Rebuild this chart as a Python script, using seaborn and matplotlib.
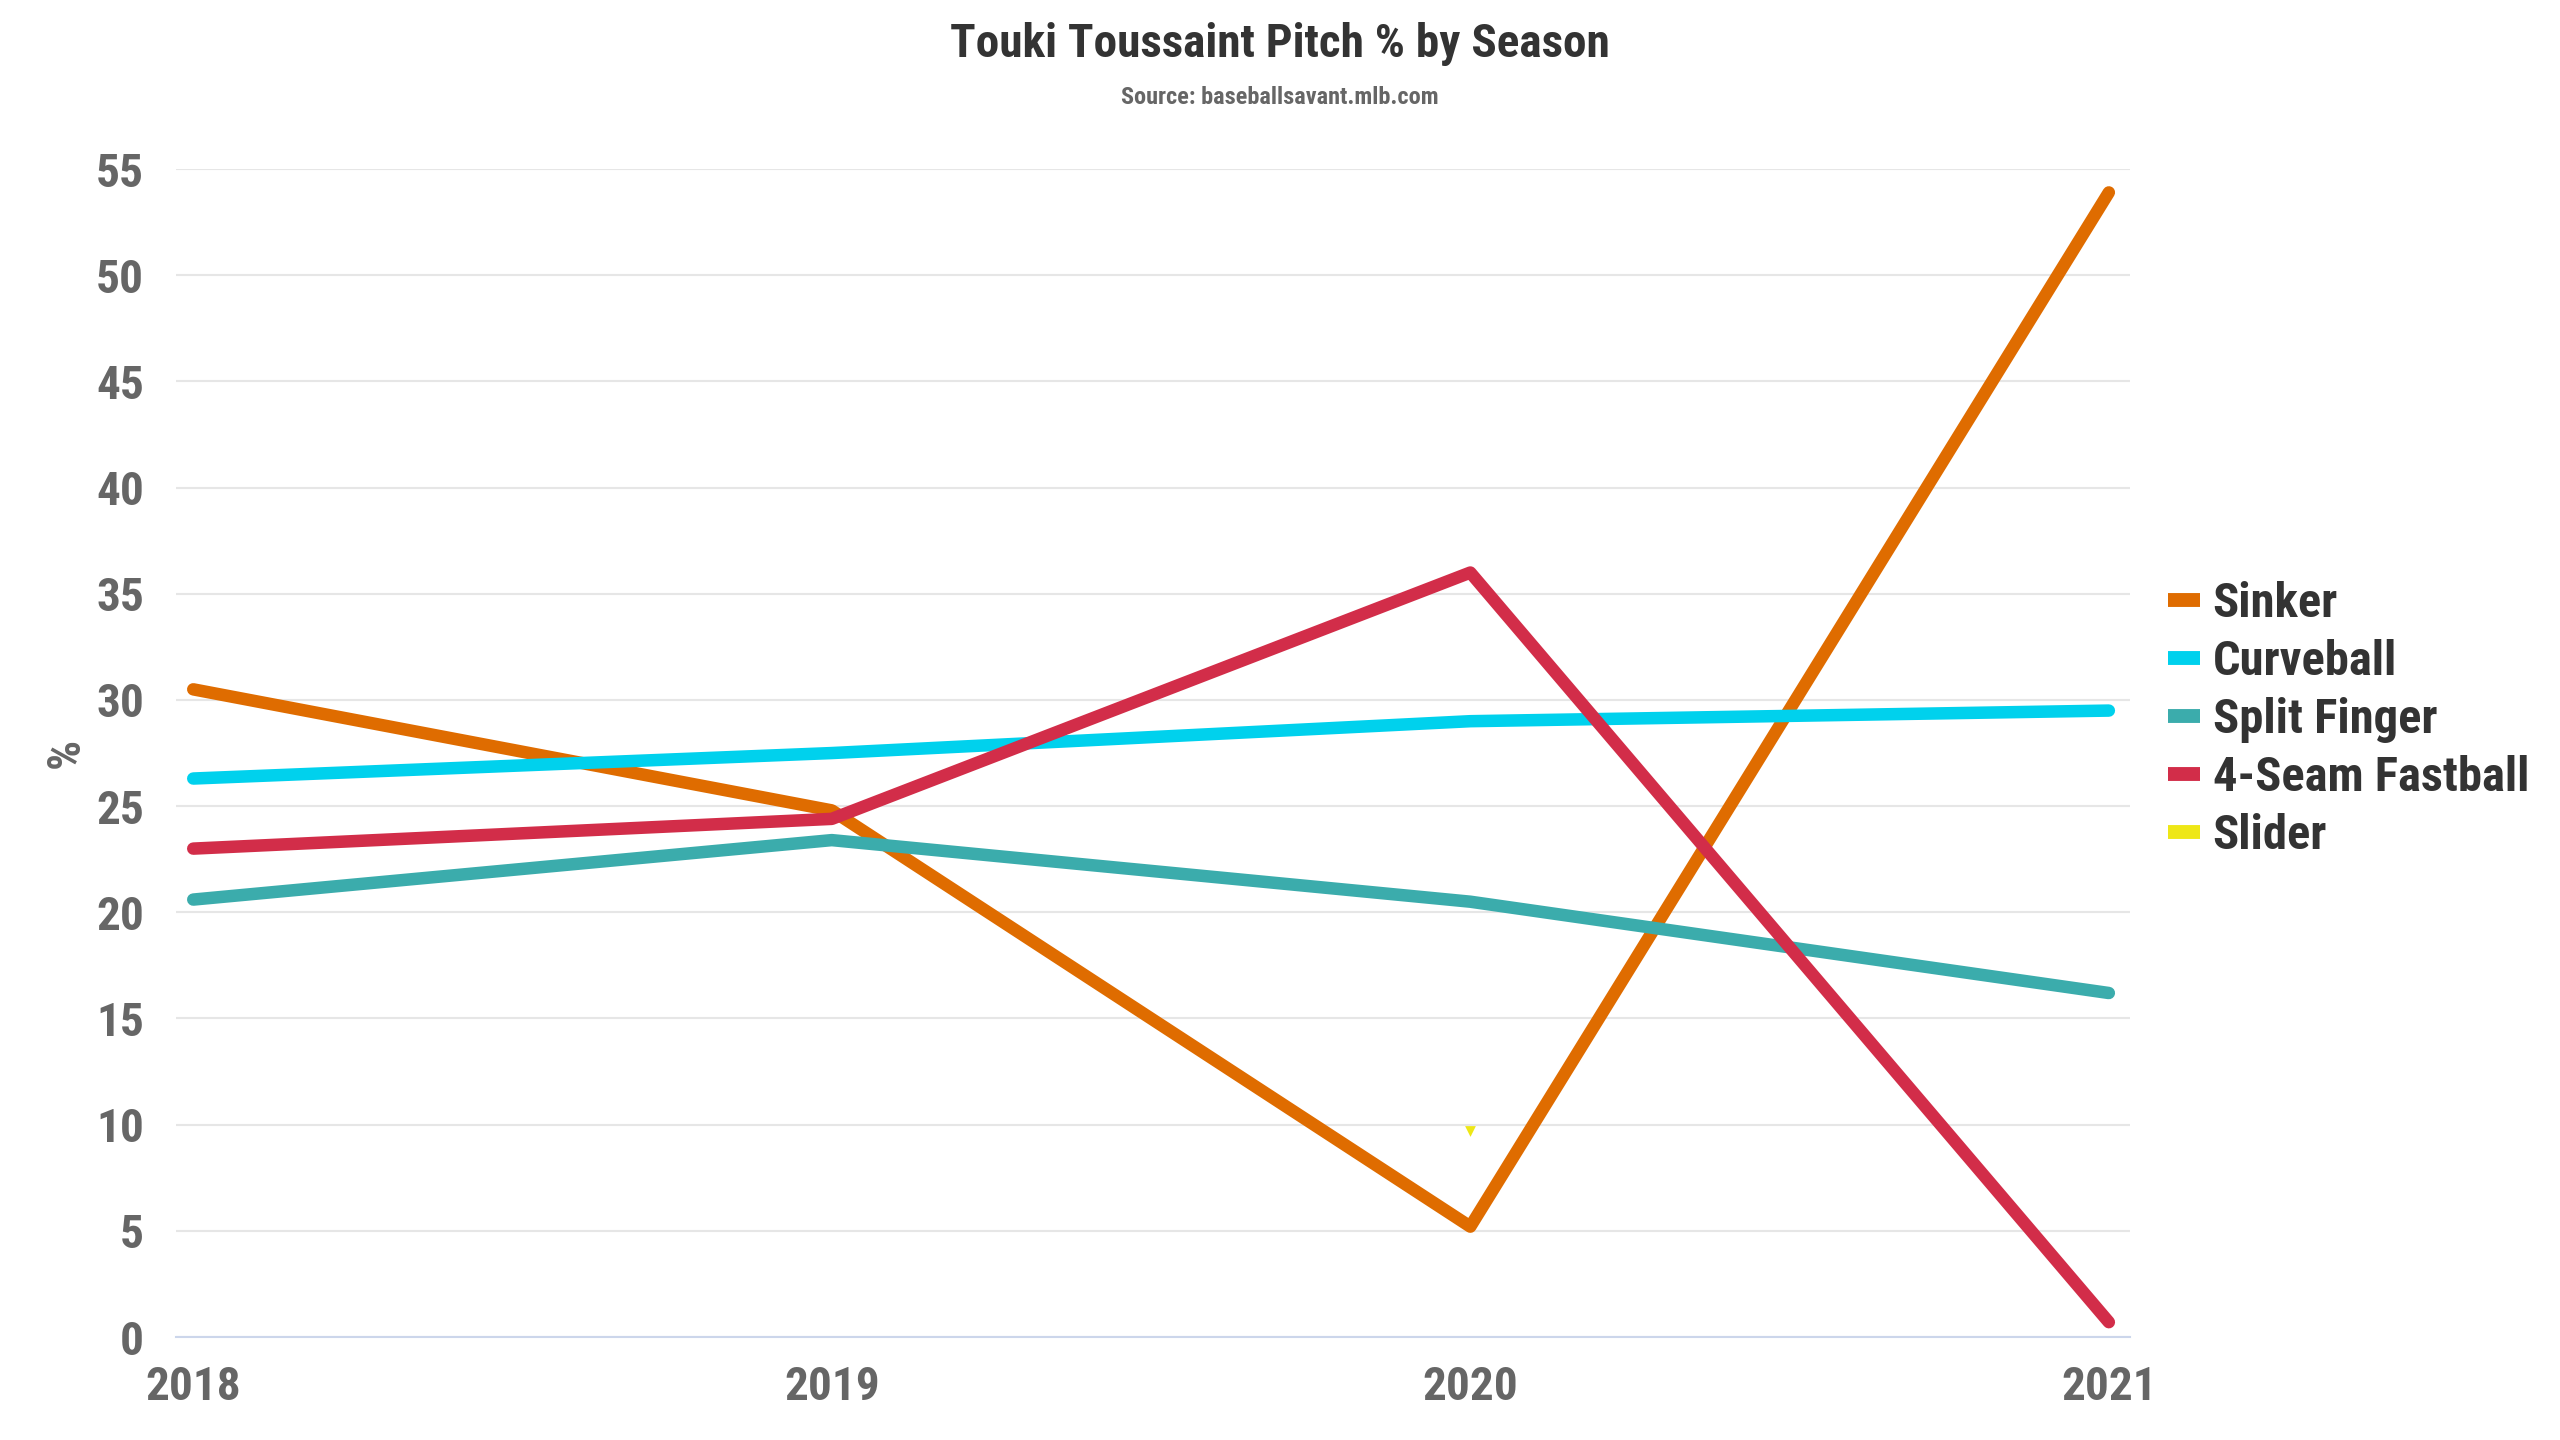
import numpy as np
import pandas as pd
import seaborn as sns
import matplotlib.pyplot as plt
from matplotlib.lines import Line2D

seasons = [2018, 2019, 2020, 2021]
sinker = [30.5, 24.8, 5.2, 53.9]
curveball = [26.3, 27.5, 29.0, 29.5]
split_finger = [20.6, 23.4, 20.5, 16.2]
four_seam = [23.0, 24.4, 36.0, 0.7]
slider_season = [2020]
slider = [9.7]

pitches = ['Sinker', 'Curveball', 'Split Finger', '4-Seam Fastball', 'Slider']
colors = {'Sinker': '#DF6C00', 'Curveball': '#00D1ED', 'Split Finger': '#3BACAC',
          '4-Seam Fastball': '#D22D49', 'Slider': '#EEE716'}

df = pd.DataFrame({
    'season': seasons * 4,
    'pct': sinker + curveball + split_finger + four_seam,
    'pitch': [p for p in pitches[:4] for _ in seasons],
})
df_slider = pd.DataFrame({'season': slider_season, 'pct': slider, 'pitch': ['Slider']})

sns.set_theme(style='white')
fam = ['Roboto Condensed', 'Liberation Sans Narrow', 'Roboto', 'DejaVu Sans']
plt.rcParams['font.family'] = fam
plt.rcParams['font.weight'] = 'bold'

fig = plt.figure(figsize=(25.6, 14.4), dpi=100)
ax = fig.add_axes([0.06875, 0.0715, 0.832 - 0.06875, 0.8826 - 0.0715])

sns.lineplot(data=df, x='season', y='pct', hue='pitch', palette=colors, ax=ax,
             linewidth=9, solid_capstyle='round', solid_joinstyle='round',
             legend=False, sort=False, clip_on=False)
sns.scatterplot(data=df_slider, x='season', y='pct', color=colors['Slider'], marker='v',
                s=60, linewidth=0, ax=ax, legend=False)

ax.set_xlim(2017.973, 2021.033)
ax.set_ylim(0, 55)
ax.set_yticks(np.arange(0, 56, 5))
ax.set_xticks(seasons)
ax.set_xticklabels([str(s) for s in seasons])
ax.yaxis.grid(True, color='#e6e6e6', linewidth=1.5)
ax.set_axisbelow(True)
for side in ['top', 'right', 'left']:
    ax.spines[side].set_visible(False)
ax.spines['bottom'].set_color('#ccd6eb')
ax.spines['bottom'].set_linewidth(1.5)
ax.tick_params(axis='x', colors='#666666', length=13, width=1.5, pad=7, labelsize=34)
ax.tick_params(axis='x', color='#ccd6eb')
ax.tick_params(axis='y', colors='#666666', length=0, pad=23, labelsize=34)
ax.set_xlabel('')
ax.set_ylabel('%', fontsize=34, color='#666666', fontweight='bold', labelpad=6)

fig.text(0.5, 1 - 44 / 1440, 'Touki Toussaint Pitch % by Season', ha='center', va='center',
         fontsize=34, color='#333333', fontweight='bold')
fig.text(0.5, 1 - 98 / 1440, 'Source: baseballsavant.mlb.com', ha='center', va='center',
         fontsize=17.5, color='#666666', fontweight='bold')

handles = [Line2D([0], [0], color=colors[p], linewidth=10, solid_capstyle='butt') for p in pitches]
leg = fig.legend(handles, pitches, loc='center left', bbox_to_anchor=(0.847, 0.5),
                 frameon=False, fontsize=35, handlelength=0.66, handletextpad=0.25,
                 labelspacing=0.25, borderpad=0, borderaxespad=0)
for t in leg.get_texts():
    t.set_color('#333333')
    t.set_fontweight('bold')

fig.savefig('out.png', dpi=100)
